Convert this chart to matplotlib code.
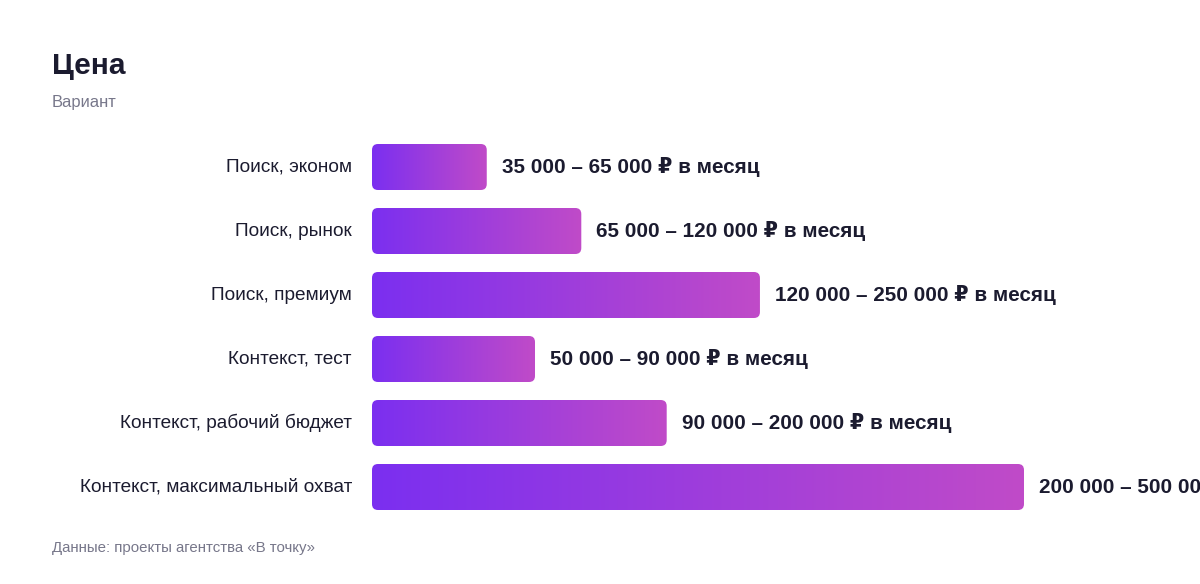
import matplotlib
matplotlib.use("Agg")
import matplotlib.pyplot as plt
import numpy as np
from matplotlib.patches import FancyBboxPatch
from matplotlib.colors import LinearSegmentedColormap

plt.rcParams['font.family'] = ['Liberation Sans', 'DejaVu Sans']

# data
categories = ["Поиск, эконом", "Поиск, рынок", "Поиск, премиум",
              "Контекст, тест", "Контекст, рабочий бюджет", "Контекст, максимальный охват"]
# relative bar length (max = 100)
values = [17.6, 32.1, 59.5, 25.0, 45.2, 100.0]
price_labels = ["35 000 – 65 000 ₽ в месяц", "65 000 – 120 000 ₽ в месяц",
                "120 000 – 250 000 ₽ в месяц", "50 000 – 90 000 ₽ в месяц",
                "90 000 – 200 000 ₽ в месяц", "200 000 – 500 000 ₽ в месяц"]

dark = "#1b1b2f"
grey = "#77778a"
cmap = LinearSegmentedColormap.from_list("grad", ["#7b2ff0", "#c04bc8"])

W, H = 1200, 584
fig = plt.figure(figsize=(W / 100, H / 100), dpi=100)
ax = fig.add_axes([372 / W, 1 - 519 / H, 828 / W, 384 / H])
xmax = 100 * 828 / 652
ax.set_xlim(0, xmax)
ax.set_ylim(len(categories) - 0.5, -0.5)
ax.axis("off")

# pixel scale of each axis, for round corners
xu = xmax / 828
yu = len(categories) / 384
radius_px = 6
bar_h = 46 / 64

grad = np.linspace(0, 1, 256).reshape(1, -1)
for i, (v, lab) in enumerate(zip(values, price_labels)):
    patch = FancyBboxPatch((0, i - bar_h / 2), v, bar_h,
                           boxstyle="round,pad=0,rounding_size=%f" % (radius_px * xu),
                           mutation_aspect=yu / xu, linewidth=0, facecolor="none")
    ax.add_patch(patch)
    im = ax.imshow(grad, cmap=cmap, aspect="auto", interpolation="bilinear",
                   extent=(0, v, i + bar_h / 2, i - bar_h / 2), zorder=2)
    im.set_clip_path(patch)
    ax.text(v + 15 * xu, i, lab, ha="left", va="center", fontsize=14.9,
            fontweight="bold", color=dark, clip_on=False)
    ax.text(-20 * xu, i, categories[i], ha="right", va="center", fontsize=13.7,
            color=dark, clip_on=False)

ax.set_xlim(0, xmax)
ax.set_ylim(len(categories) - 0.5, -0.5)

fig.text(52 / W, 1 - 66 / H, "Цена", fontsize=21.5, fontweight="bold", color=dark, va="center")
fig.text(52 / W, 1 - 103 / H, "Вариант", fontsize=11.9, color=grey, va="center")
fig.text(52 / W, 1 - 548 / H, "Данные: проекты агентства «В точку»", fontsize=10.8,
         color=grey, va="center")

fig.savefig("out.png", dpi=100)
